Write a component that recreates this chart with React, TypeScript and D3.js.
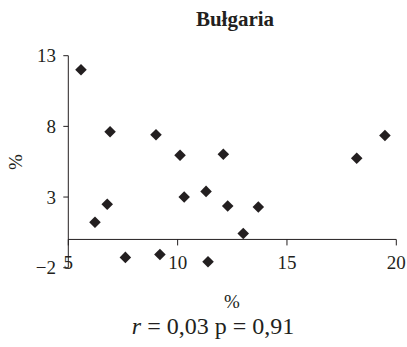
import React from "react";
import * as d3 from "d3";

const xValues = [5.58, 6.91, 6.22, 6.78, 7.61, 9.01, 9.19, 10.11, 10.3, 12.09, 11.3, 11.39, 12.29, 13.0, 13.69, 18.19, 19.48];
const yValues = [12.0, 7.62, 1.22, 2.49, -1.27, 7.41, -1.06, 5.96, 3.0, 6.03, 3.4, -1.58, 2.37, 0.42, 2.3, 5.75, 7.35];
const xTicks = [5, 10, 15, 20];
const yTicks = [-2, 3, 8, 13];
const title = "Bułgaria";
const xLabel = "%";
const yLabel = "%";

const W = 407;
const H = 347;
const FONT = "'Liberation Serif', 'Tinos', 'Times New Roman', 'DejaVu Serif', 'Noto Serif', serif";
const ts = { fontFamily: FONT };

export default function App() {
  const x = d3.scaleLinear().domain([5, 20]).range([68.3, 396.3]);
  const y = d3.scaleLinear().domain([-2, 13]).range([267.7, 55.7]);
  const y0 = y(0);
  const diamond = d3.symbol().type(d3.symbolDiamond2).size(85)();
  const pts = xValues.map((v, i) => ({ x: v, y: yValues[i] }));
  return (
    <svg width={W} height={H} style={{ position: "absolute", left: 0, top: 0, background: "#fff", fontFamily: FONT }}>
      <rect width={W} height={H} fill="#fff" />
      <text x={235} y={26} textAnchor="middle" fontWeight="bold" fontSize={21} fill="#231f20" style={ts}>{title}</text>
      <line x1={x(5)} x2={x(5)} y1={y(13)} y2={y(-2)} stroke="#231f20" strokeWidth={1} />
      {yTicks.map((t) => (
        <g key={t}>
          <line x1={x(5) - 5} x2={x(5)} y1={y(t)} y2={y(t)} stroke="#231f20" strokeWidth={1} />
          <text x={56} y={y(t)} dy="0.35em" textAnchor="end" fontSize={19} fill="#231f20" style={ts}>{t < 0 ? "\u2212" + Math.abs(t) : t}</text>
        </g>
      ))}
      <line x1={x(5)} x2={x(20)} y1={y0} y2={y0} stroke="#231f20" strokeWidth={1} />
      {xTicks.map((t) => (
        <g key={t}>
          <line x1={x(t)} x2={x(t)} y1={y0} y2={y0 + 6} stroke="#231f20" strokeWidth={1} />
          <text x={x(t)} y={268.5} textAnchor="middle" fontSize={19} fill="#231f20" style={ts}>{t}</text>
        </g>
      ))}
      {pts.map((p, i) => (
        <path key={i} d={diamond!} transform={`translate(${x(p.x)},${y(p.y)})`} fill="#231f20" />
      ))}
      <text x={232} y={308} textAnchor="middle" fontSize={19} fill="#231f20" style={ts}>{xLabel}</text>
      <text transform="translate(22,162) rotate(-90)" textAnchor="middle" fontSize={19} fill="#231f20" style={ts}>{yLabel}</text>
      <text x={213} y={334} textAnchor="middle" fontSize={24} fill="#231f20" style={ts}>
        <tspan fontStyle="italic">r</tspan>
        <tspan> = 0,03 p = 0,91</tspan>
      </text>
    </svg>
  );
}
